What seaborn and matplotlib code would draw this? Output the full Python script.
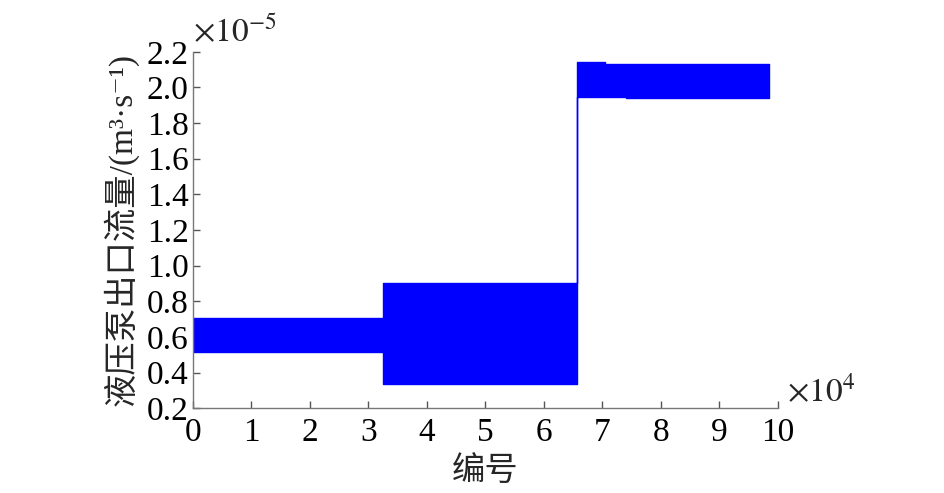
import numpy as np
import pandas as pd
import matplotlib
matplotlib.use("Agg")
import matplotlib.pyplot as plt
import seaborn as sns

# 编号分段边界 (单位: 1e4) 与每段流量包络 (单位: 1e-5 m^3/s)
seg_start = [0.0, 3.25, 6.56, 7.05, 7.40]
seg_end = [3.25, 6.56, 7.05, 7.40, 9.85]
flow_upper = [0.706, 0.902, 2.144, 2.133, 2.133]
flow_lower = [0.515, 0.335, 1.947, 1.947, 1.942]

xticks = [0, 1, 2, 3, 4, 5, 6, 7, 8, 9, 10]
yticks = [0.2, 0.4, 0.6, 0.8, 1.0, 1.2, 1.4, 1.6, 1.8, 2.0, 2.2]

sns.set_style("ticks")
plt.rcParams['font.family'] = ['Liberation Serif', 'Noto Sans CJK SC', 'DejaVu Serif']
plt.rcParams['mathtext.fontset'] = 'stix'

df = pd.DataFrame({"start": seg_start, "end": seg_end,
                   "upper": flow_upper, "lower": flow_lower})
x = np.append(df["start"].values, df["end"].values[-1])
up = np.append(df["upper"].values, df["upper"].values[-1])
lo = np.append(df["lower"].values, df["lower"].values[-1])

fig = plt.figure(figsize=(9.45, 4.93), dpi=100)
ax = fig.add_axes([0.204, 0.172, 0.619, 0.723])

ax.fill_between(x, lo, up, step="post", facecolor="#0000ff",
                edgecolor="#0000ff", linewidth=1.0)

ax.set_xlim(0, 10)
ax.set_ylim(0.2, 2.2)
ax.set_xticks(xticks)
ax.set_yticks(yticks)
ax.set_xticklabels([str(t) for t in xticks])
ax.set_yticklabels([f"{t:.1f}" for t in yticks])
ax.tick_params(direction="in", length=5, width=1, colors="#555555",
               labelcolor="black", labelsize=24)
ax.tick_params(axis="x", pad=7)
ax.tick_params(axis="y", pad=3)
sns.despine(ax=ax)
for s in ["left", "bottom"]:
    ax.spines[s].set_color("#777777")
    ax.spines[s].set_linewidth(1)

ax.set_xlabel("编号", fontsize=24, labelpad=6)
ax.set_ylabel("液压泵出口流量/(m³·s⁻¹)", fontsize=24, labelpad=6)

ax.text(0.0, 1.01, r"$\times10^{-5}$", transform=ax.transAxes,
        fontsize=24, ha="left", va="bottom")
ax.text(1.015, 0.0, r"$\times10^{4}$", transform=ax.transAxes,
        fontsize=24, ha="left", va="bottom")

fig.savefig("out.png", dpi=100)
